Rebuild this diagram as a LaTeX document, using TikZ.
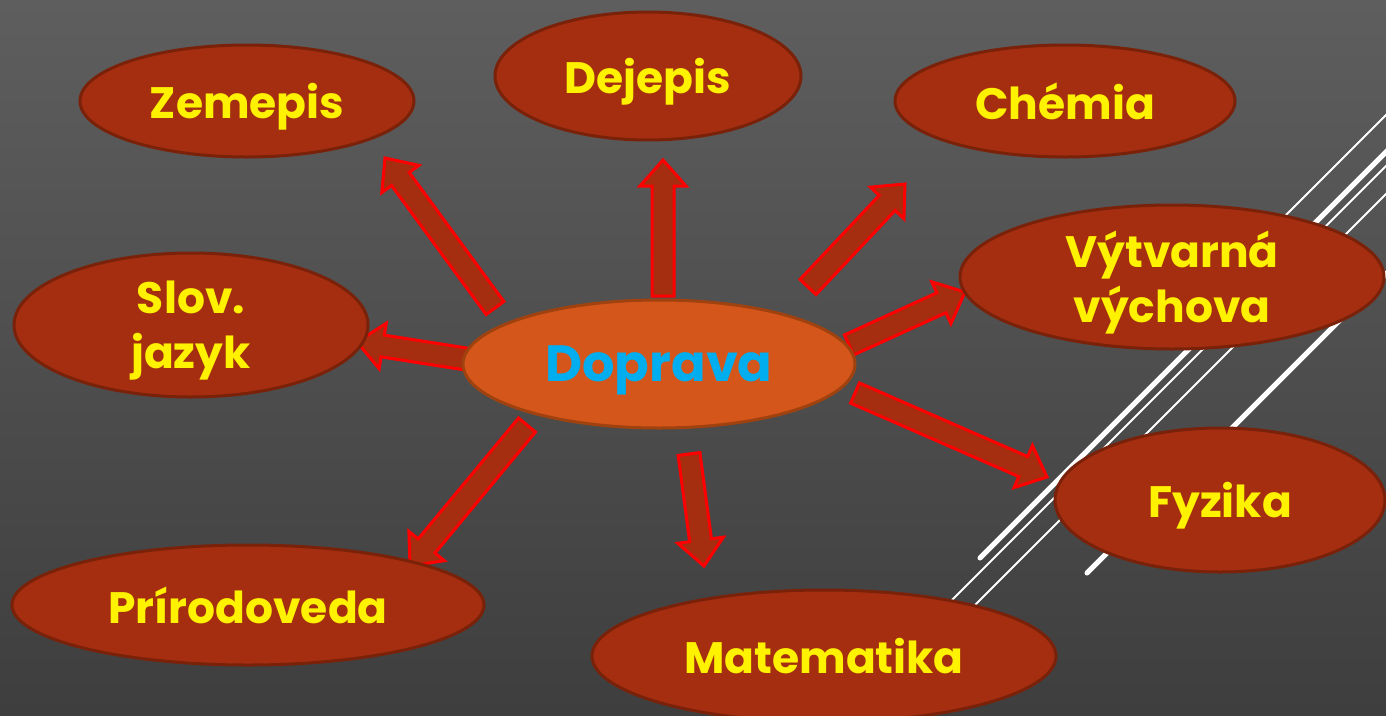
\documentclass[tikz,border=0pt]{standalone}
\usepackage{fontspec}
\setmainfont{Poppins}
\usetikzlibrary{calc,shapes.geometric}

\definecolor{bgtop}{HTML}{5E5E5E}
\definecolor{bgbot}{HTML}{3E3E3E}
\definecolor{brickred}{HTML}{A52E10}
\definecolor{brickline}{HTML}{7A2109}
\definecolor{hubfill}{HTML}{D4561A}
\definecolor{hubline}{HTML}{A0420F}
\definecolor{skyblue}{HTML}{00AEEF}

\tikzset{
	topic/.style={ellipse, draw=brickline, line width=3pt, fill=brickred, inner sep=0pt, text depth=0pt, text=yellow, align=center, font=\fontsize{44}{55}\selectfont\bfseries},
	hub/.style={ellipse, draw=hubline, line width=3pt, fill=hubfill, inner sep=0pt, text depth=0pt, text=skyblue, font=\fontsize{51}{60}\selectfont\bfseries},
	blockarr/.style={draw=red, line width=3pt, fill=brickred, line join=miter},
	thinstripe/.style={white, line width=2pt},
	thickstripe/.style={white, line width=5pt, line cap=round},
}

% block arrow from tail (#1) to tip (#2)
\def\blockarrow(#1)(#2){%
	\coordinate (neck) at ($(#2)!26pt!(#1)$);
	\draw[blockarr] ($(#1)!11pt!90:(#2)$) -- ($(neck)!11pt!90:(#2)$) -- ($(neck)!23pt!90:(#2)$) -- (#2)
		-- ($(neck)!23pt!-90:(#2)$) -- ($(neck)!11pt!-90:(#2)$) -- ($(#1)!11pt!-90:(#2)$) -- cycle;}

\begin{document}
\begin{tikzpicture}[x=1pt, y=-1pt]
		%%%%% START %%%%%
		\useasboundingbox (0, 0) rectangle (1386, 715);
		\clip (0, 0) rectangle (1386, 715);
		\shade[top color=bgtop, bottom color=bgbot] (0, 0) rectangle (1386, 715);
		
		% white stripes on the right
		\draw[thinstripe] (1400, 101) -- (1250, 251);
		\draw[thickstripe] (1400, 138) -- (980, 558);
		\draw[thinstripe] (1400, 152) -- (945, 607);
		\draw[thinstripe] (1400, 180) -- (970, 610);
		\draw[thickstripe] (1400, 260) -- (1087, 573);
		
		% arrow ends
		\coordinate (zemA) at (495, 308);  \coordinate (zemB) at (385, 158);
		\coordinate (dejA) at (663, 296);  \coordinate (dejB) at (663, 160);
		\coordinate (cheA) at (808, 287);  \coordinate (cheB) at (905, 184);
		\coordinate (vytA) at (849, 345);  \coordinate (vytB) at (965, 292);
		\coordinate (fyzA) at (855, 393);  \coordinate (fyzB) at (1047, 477);
		\coordinate (matA) at (689, 454);  \coordinate (matB) at (704, 566);
		\coordinate (priA) at (527, 425);  \coordinate (priB) at (410, 566);
		\coordinate (sloA) at (466, 359);  \coordinate (sloB) at (357, 342);
		
		\blockarrow(zemA)(zemB)
		\blockarrow(dejA)(dejB)
		\blockarrow(cheA)(cheB)
		\blockarrow(vytA)(vytB)
		\blockarrow(fyzA)(fyzB)
		\blockarrow(matA)(matB)
		\blockarrow(priA)(priB)
		\blockarrow(sloA)(sloB)
		
		% topics
		\node[topic, minimum width=334, minimum height=112] (zem) at (247, 101) {Zemepis};
		\node[topic, minimum width=306, minimum height=128] (dej) at (648, 76) {Dejepis};
		\node[topic, minimum width=340, minimum height=112] (che) at (1065, 101) {Chémia};
		\node[topic, minimum width=424, minimum height=144] (vyt) at (1172, 277) {Výtvarná\\výchova};
		\node[topic, minimum width=354, minimum height=144] (slo) at (191, 325) {Slov.\\jazyk};
		\node[topic, minimum width=330, minimum height=144] (fyz) at (1220, 500) {Fyzika};
		\node[topic, minimum width=472, minimum height=120] (pri) at (248, 605) {Prírodoveda};
		\node[topic, minimum width=464, minimum height=132] (mat) at (824, 656) {Matematika};
		
		\node[hub, minimum width=392, minimum height=128] (dop) at (659, 364) {Doprava};
		%%%%% END %%%%%
\end{tikzpicture}
\end{document}
